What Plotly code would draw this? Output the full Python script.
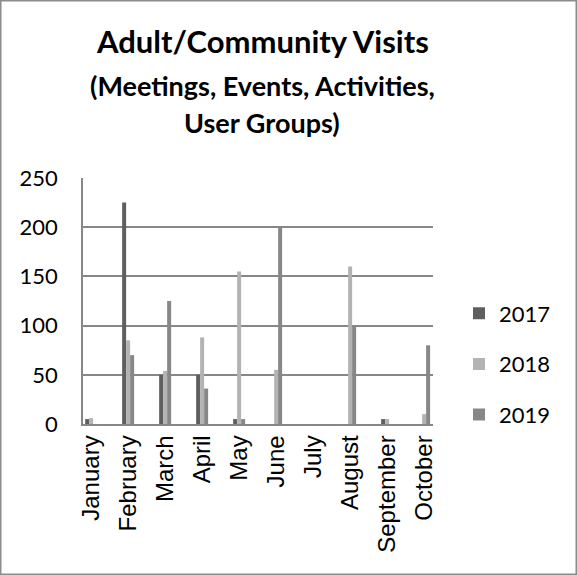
import plotly.graph_objects as go

months = ["January", "February", "March", "April", "May", "June",
          "July", "August", "September", "October"]
v2017 = [5, 225, 50, 50, 5, 0, 0, 0, 5, 0]
v2018 = [6, 85, 54, 88, 155, 55, 0, 160, 5, 10]
v2019 = [0, 70, 125, 36, 5, 200, 0, 100, 0, 80]
series_names = ["2017", "2018", "2019"]
series_colors = ["#5f5f5f", "#b3b3b3", "#878787"]
title_lines = ["Adult/Community Visits", "(Meetings, Events, Activities,", "User Groups)"]

W, H = 577, 575
L, R, T, B = 83, 144, 178, 151
pw, ph = W - L - R, H - T - B

def px_to_py(p):
    return (H - B - p) / ph

def px_to_px(p):
    return (p - L) / pw

FONT = "Lato"
XFONT = "Liberation Sans"

fig = go.Figure()
for name, vals, col in zip(series_names, [v2017, v2018, v2019], series_colors):
    fig.add_trace(go.Bar(x=months, y=vals, name=name, legendgroup=name,
                         marker=dict(color=col, line=dict(width=0))))

fig.update_layout(
    width=W, height=H,
    margin=dict(l=L, r=R, t=T, b=B),
    paper_bgcolor="white", plot_bgcolor="white",
    barmode="group", bargap=0.676, bargroupgap=0,
    font=dict(family=FONT, size=22, color="black"),
    showlegend=True,
    legend=dict(x=px_to_px(459), y=px_to_py(364), xanchor="left", yanchor="middle",
                font=dict(family=FONT, size=22, color="black"),
                tracegroupgap=19, bgcolor="rgba(0,0,0,0)"),
    xaxis=dict(range=[-0.22, 9.24], tickangle=-90, showgrid=False,
               showline=True, linecolor="#878787", linewidth=1.5,
               ticks="",
               tickfont=dict(family=XFONT, size=24, color="black")),
    yaxis=dict(range=[0, 250], dtick=50, showgrid=True, gridcolor="#878787",
               gridwidth=1.5, showline=True, linecolor="#878787", linewidth=1.5,
               zeroline=False, ticks="outside", ticklen=19, tickcolor="rgba(0,0,0,0)",
               tickfont=dict(family=FONT, size=22, color="black")),
)

sizes = [31, 27, 27]
ys = [41, 85, 123]
for txt, s, yp in zip(title_lines, sizes, ys):
    fig.add_annotation(text="<b>" + txt + "</b>", xref="paper", yref="paper",
                       x=px_to_px(262), y=px_to_py(yp), xanchor="center", yanchor="middle",
                       showarrow=False, font=dict(family=FONT, size=s, color="black"))

fig.add_shape(type="rect", xref="paper", yref="paper",
              x0=px_to_px(0.75), x1=px_to_px(W - 0.75),
              y0=px_to_py(H - 0.75), y1=px_to_py(0.75),
              line=dict(color="#8c8c8c", width=1.5), fillcolor="rgba(0,0,0,0)")

fig.write_html("out.html", config={"displayModeBar": False},
               post_script="document.body.style.margin='0';")
